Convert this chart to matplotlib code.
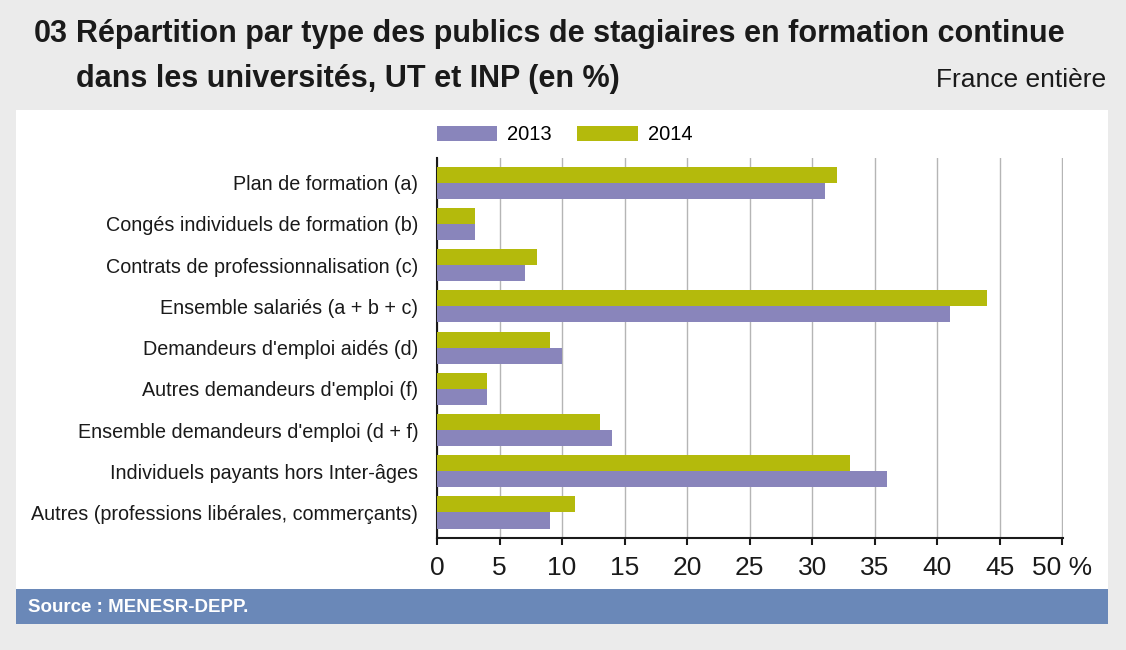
import matplotlib
matplotlib.use("Agg")
import matplotlib.pyplot as plt
import numpy as np
from matplotlib.patches import Rectangle

# ---------------- DATA ----------------
categories = [
    "Plan de formation (a)",
    "Congés individuels de formation (b)",
    "Contrats de professionnalisation (c)",
    "Ensemble salariés (a + b + c)",
    "Demandeurs d'emploi aidés (d)",
    "Autres demandeurs d'emploi (f)",
    "Ensemble demandeurs d'emploi (d + f)",
    "Individuels payants hors Inter-âges",
    "Autres (professions libérales, commerçants)",
]
values_2013 = [31, 3, 7, 41, 10, 4, 14, 36, 9]
values_2014 = [32, 3, 8, 44, 9, 4, 13, 33, 11]
xticks = [0, 5, 10, 15, 20, 25, 30, 35, 40, 45, 50]
xtick_labels = ["0", "5", "10", "15", "20", "25", "30", "35", "40", "45", "50 %"]

# ---------------- STYLE ----------------
plt.rcParams["font.family"] = ["Liberation Sans", "DejaVu Sans"]
col_2013 = "#8985bb"
col_2014 = "#b4ba0c"
col_bg = "#ebebeb"
col_source = "#6a88b8"
txt = "#1a1a1a"

W, H = 1126, 650
fig = plt.figure(figsize=(W / 100, H / 100), dpi=100)
fig.patch.set_facecolor(col_bg)

# white panel + source band (behind the axes)
fig.patches.append(Rectangle((16 / W, 1 - 589 / H), (1108 - 16) / W, (589 - 110) / H,
                             transform=fig.transFigure, facecolor="white", edgecolor="none", zorder=-5))
fig.patches.append(Rectangle((16 / W, 1 - 624 / H), (1108 - 16) / W, (624 - 589) / H,
                             transform=fig.transFigure, facecolor=col_source, edgecolor="none", zorder=-5))

# ---------------- TITLE ----------------
fig.text(34 / W, 1 - 42 / H, "03", fontsize=22, fontweight="bold", color=txt, va="baseline")
fig.text(76 / W, 1 - 42 / H, "Répartition par type des publics de stagiaires en formation continue",
         fontsize=22, fontweight="bold", color=txt, va="baseline")
fig.text(76 / W, 1 - 87 / H, "dans les universités, UT et INP (en %)",
         fontsize=22, fontweight="bold", color=txt, va="baseline")
fig.text(1106 / W, 1 - 87 / H, "France entière", fontsize=19, color=txt, ha="right", va="baseline")
fig.text(28 / W, 1 - 607 / H, "Source : MENESR-DEPP.", fontsize=13.5, fontweight="bold",
         color="white", va="center")

# ---------------- CHART ----------------
ax = fig.add_axes([437 / W, 1 - 538 / H, (1063 - 437) / W, (538 - 158) / H])
y = np.arange(len(categories))
h = 0.39
ax.barh(y - h / 2, values_2014, height=h, color=col_2014, label="2014", zorder=3)
ax.barh(y + h / 2, values_2013, height=h, color=col_2013, label="2013", zorder=3)

ax.set_xlim(0, 50.05)
ax.set_ylim(len(categories) - 0.38, -0.6)
ax.set_yticks(y)
ax.set_yticklabels(categories, fontsize=14.2, color=txt)
ax.tick_params(axis="y", length=0, pad=13.5)
ax.set_xticks(xticks)
ax.set_xticklabels(xtick_labels, fontsize=19, color=txt)
ax.tick_params(axis="x", length=5, width=1.5, color=txt, pad=8)

ax.grid(axis="x", color="#b5b5b5", linewidth=1, zorder=0)
for s in ["top", "right"]:
    ax.spines[s].set_visible(False)
for s in ["left", "bottom"]:
    ax.spines[s].set_linewidth(1.5)
    ax.spines[s].set_color(txt)
ax.set_facecolor("none")

handles, labels = ax.get_legend_handles_labels()
fig.legend(handles[::-1], labels[::-1], loc="center left",
           bbox_to_anchor=(437 / W, 1 - 135 / H), ncol=2, frameon=False,
           fontsize=14.5, handlelength=3.0, handleheight=0.8, columnspacing=1.25,
           handletextpad=0.5, borderpad=0, borderaxespad=0)

fig.savefig("out.png", dpi=100, facecolor=col_bg)
